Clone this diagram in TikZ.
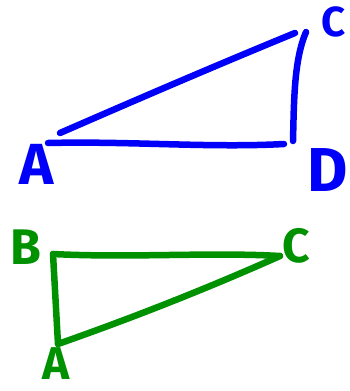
\documentclass[tikz,border=0pt]{standalone}
\usepackage{fontspec}
\setmainfont{Fira Sans}
\definecolor{penblue}{RGB}{0,0,250}
\definecolor{pengreen}{RGB}{0,145,0}
\tikzset{
  pen/.style={line width=6.5pt, line cap=round, line join=round},
  lbl/.style={inner sep=0pt, font=\bfseries}
}
\begin{document}
\begin{tikzpicture}[x=1pt,y=-1pt]
\useasboundingbox (0,0) rectangle (350,391);
% blue triangle
\coordinate (bA1) at (60,133);
\coordinate (bA2) at (48,143);
\coordinate (bC1) at (295,33);
\coordinate (bC2) at (306,32);
\coordinate (bD1) at (284,144);
\coordinate (bD2) at (293,141);
\draw[pen, penblue] (bA1) .. controls (138,99) and (217,65) .. (bC1);
\draw[pen, penblue] (bA2) .. controls (130,141) and (210,148) .. (bD1);
\draw[pen, penblue] (bD2) .. controls (294,100) and (294,60) .. (bC2);
\node[lbl, penblue, font=\fontsize{58}{58}\selectfont\bfseries] (lA) at (37,164) {A};
\node[lbl, penblue, font=\fontsize{42}{42}\selectfont\bfseries] (lC) at (334,22) {C};
\node[lbl, penblue, font=\fontsize{62}{62}\selectfont\bfseries] (lD) at (328,170) {D};
% green triangle
\coordinate (gB) at (53,254);
\coordinate (gC) at (280,256);
\coordinate (gA) at (58,344);
\draw[pen, pengreen] (gB) -- (gA);
\draw[pen, pengreen] (gB) .. controls (130,258) and (210,252) .. (gC);
\draw[pen, pengreen] (gA) .. controls (132,318) and (206,289) .. (gC);
\node[lbl, pengreen, font=\fontsize{50}{50}\selectfont\bfseries] (gLB) at (26,247) {B};
\node[lbl, pengreen, font=\fontsize{48}{48}\selectfont\bfseries] (gLC) at (296,246) {C};
\node[lbl, pengreen, font=\fontsize{46}{46}\selectfont\bfseries] (gLA) at (56,364) {A};
\end{tikzpicture}
\end{document}
